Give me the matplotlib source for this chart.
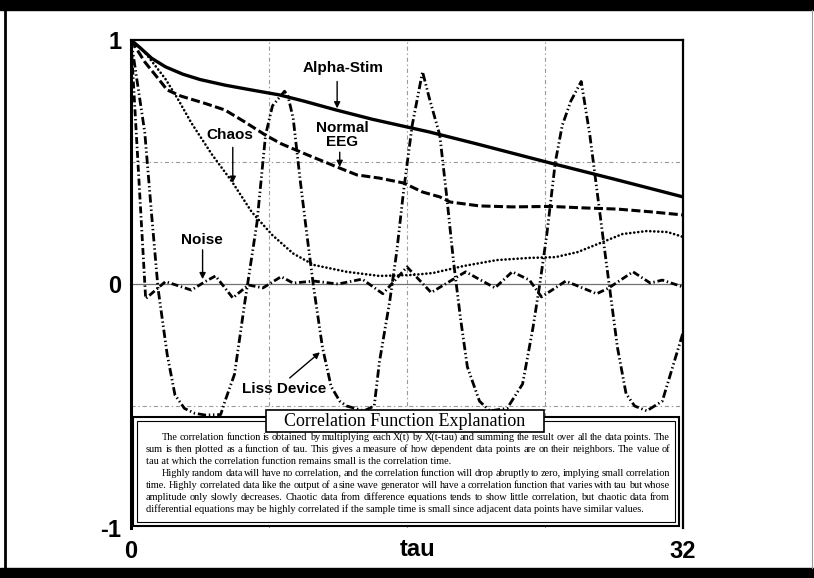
import matplotlib
matplotlib.use("Agg")
import matplotlib.pyplot as plt
from matplotlib.patches import Rectangle

W, H = 814, 578

# values: tau and correlation for each curve
alpha_tau = [0, 0.5, 1.2, 2.0, 3.0, 4.0, 5.45, 7.0, 8.6, 10.0, 11.9, 14.0, 17.3, 20.0, 24.3, 28.0, 32]
alpha_val = [1.0, 0.97, 0.925, 0.89, 0.86, 0.838, 0.815, 0.795, 0.775, 0.75, 0.713, 0.675, 0.623, 0.575, 0.496, 0.43, 0.357]

eeg_tau = [0, 0.8, 1.6, 2.1, 2.9, 4.3, 5.45, 6.6, 7.8, 8.7, 10.2, 12.1, 13.1, 14.4, 15.8, 16.9, 17.9, 18.5, 20.2, 22.1, 24.3, 26.2, 28.2, 30.1, 32]
eeg_val = [1.0, 0.91, 0.84, 0.795, 0.77, 0.74, 0.713, 0.664, 0.61, 0.575, 0.53, 0.475, 0.447, 0.434, 0.414, 0.377, 0.357, 0.336, 0.32, 0.316, 0.318, 0.312, 0.307, 0.296, 0.283]

chaos_tau = [0, 0.8, 2.0, 2.7, 3.5, 4.7, 5.85, 7.0, 8.2, 9.4, 10.6, 12.5, 14.4, 16.3, 17.5, 19.3, 21.2, 23.1, 24.6, 25.9, 27.2, 28.5, 29.9, 31.1, 32]
chaos_val = [1.0, 0.95, 0.84, 0.76, 0.66, 0.53, 0.42, 0.295, 0.2, 0.125, 0.078, 0.05, 0.033, 0.037, 0.045, 0.074, 0.098, 0.107, 0.11, 0.131, 0.168, 0.205, 0.217, 0.213, 0.193]

noise_tau = [0, 0.85, 2.0, 3.5, 4.3, 4.9, 5.9, 6.8, 7.65, 8.7, 9.4, 10.6, 12.0, 13.4, 14.6, 16.0, 17.4, 19.4, 21.1, 22.1, 23.1, 23.8, 25.2, 27.0, 27.7, 29.1, 30.1, 30.8, 32]
noise_val = [1.0, -0.06, 0.01, -0.025, 0.01, 0.033, -0.057, -0.004, -0.016, 0.03, 0.004, 0.012, 0.0, 0.02, -0.04, 0.07, -0.035, 0.05, -0.016, 0.05, 0.016, -0.053, 0.012, -0.04, -0.016, 0.05, 0.004, 0.016, -0.012]

liss_tau = [0, 0.8, 1.2, 1.57, 2.1, 2.55, 3.1, 3.7, 4.3, 5.2, 5.45, 6.0, 6.6, 7.3, 7.8, 8.2, 8.9, 9.1, 9.4, 9.8, 10.2, 10.6, 11.1, 11.6, 12.1, 12.5, 13.5, 14.1, 14.4, 15.0, 15.4, 15.8, 16.3, 16.9, 17.3, 17.9, 18.3, 18.7, 19.1, 19.5, 20.2, 20.8, 21.8, 22.7, 23.3, 23.7, 24.1, 24.6, 25.0, 25.5, 26.1, 26.6, 27.0, 27.4, 27.8, 28.2, 28.7, 29.2, 29.9, 30.8, 31.4, 32]
liss_val = [1.0, 0.62, 0.28, -0.02, -0.29, -0.455, -0.51, -0.53, -0.537, -0.535, -0.48, -0.37, -0.074, 0.25, 0.61, 0.73, 0.79, 0.77, 0.68, 0.43, 0.2, -0.02, -0.26, -0.42, -0.48, -0.5, -0.52, -0.5, -0.32, -0.07, 0.13, 0.38, 0.65, 0.87, 0.76, 0.61, 0.36, 0.09, -0.14, -0.34, -0.48, -0.52, -0.51, -0.41, -0.18, 0.0, 0.2, 0.5, 0.65, 0.75, 0.83, 0.61, 0.39, 0.17, -0.045, -0.26, -0.45, -0.5, -0.52, -0.48, -0.34, -0.2]

x_ticks = [0, 32]
x_tick_labels = ["0", "32"]
y_ticks = [-1, 0, 1]
y_tick_labels = ["-1", "0", "1"]

box_title = "Correlation Function Explanation"
box_lines = [
    ("The correlation function is obtained by multiplying each X(t) by X(t-tau) and summing the result over all the data points.  The", True, True),
    ("sum is then plotted as a function of tau.  This gives a measure of how dependent data points are on their neighbors.  The value of", False, True),
    ("tau at which the correlation function remains small is the correlation time.", False, False),
    ("Highly random data will have no correlation, and the correlation function will drop abruptly to zero, implying small correlation", True, True),
    ("time.  Highly correlated data like the output of a sine wave generator will have a correlation function that varies with tau but whose", False, True),
    ("amplitude only slowly decreases.  Chaotic data from difference equations tends to show little correlation, but chaotic data from", False, True),
    ("differential equations may be highly correlated if the sample time is small since adjacent data points have similar values.", False, False),
]

plt.rcParams["font.family"] = "Liberation Sans"
plt.rcParams["lines.scale_dashes"] = False

fig = plt.figure(figsize=(W / 100, H / 100), dpi=100)
fig.patch.set_facecolor("white")


def fx(px):
    return px / W


def fy(py):
    return 1 - py / H


# scanned page frame
fig.patches.append(Rectangle((0, fy(10)), 1, 1 - fy(10), transform=fig.transFigure, color="black"))
fig.patches.append(Rectangle((0, 0), 1, fy(568), transform=fig.transFigure, color="black"))
fig.add_artist(plt.Line2D([fx(5), fx(5)], [fy(10), fy(568)], transform=fig.transFigure, color="black", lw=2))
fig.add_artist(plt.Line2D([fx(812), fx(812)], [fy(10), fy(568)], transform=fig.transFigure, color="0.6", lw=0.8))

ax = fig.add_axes([fx(131), fy(528), fx(683) - fx(131), fy(40) - fy(528)])
ax.set_xlim(0, 32)
ax.set_ylim(-1, 1)

# grid
for gx in [8, 16, 24]:
    ax.axvline(gx, color="0.6", lw=0.8, ls=(0, (3, 2, 1, 2)), zorder=1)
for gy in [0.5, -0.5]:
    ax.axhline(gy, color="0.6", lw=0.8, ls=(0, (3, 2, 1, 2)), zorder=1)
ax.axhline(0, color="0.45", lw=0.9, zorder=1)

ax.plot(alpha_tau, alpha_val, color="black", lw=2.4, zorder=3)
ax.plot(eeg_tau, eeg_val, color="black", lw=2.2, dashes=(6.5, 2.5), zorder=3)
ax.plot(chaos_tau, chaos_val, color="black", lw=1.9, dashes=(0.1, 2.8), dash_capstyle="round", zorder=3)
ax.plot(noise_tau, noise_val, color="black", lw=2.0, dashes=(5, 2, 1, 2), zorder=3)
ax.plot(liss_tau, liss_val, color="black", lw=2.0, dashes=(6, 2, 1, 2, 1, 2), zorder=3)

arrow = dict(arrowstyle="-|>", color="black", lw=1.0, mutation_scale=9, shrinkA=0, shrinkB=0)
lab = dict(fontsize=11, fontweight="bold", ha="center", va="center", zorder=5)
ax.text(12.3, 0.885, "Alpha-Stim", **lab)
ax.annotate("", xy=(11.95, 0.72), xytext=(11.95, 0.83), arrowprops=arrow)
ax.text(12.25, 0.61, "Normal\nEEG", linespacing=1.0, **lab)
ax.annotate("", xy=(12.1, 0.48), xytext=(12.1, 0.54), arrowprops=arrow)
ax.text(5.75, 0.61, "Chaos", **lab)
ax.annotate("", xy=(5.9, 0.415), xytext=(5.9, 0.56), arrowprops=arrow)
ax.text(4.1, 0.18, "Noise", **lab)
ax.annotate("", xy=(4.15, 0.02), xytext=(4.15, 0.14), arrowprops=arrow)
ax.text(8.9, -0.43, "Liss Device", **lab)
ax.annotate("", xy=(10.95, -0.28), xytext=(9.2, -0.385), arrowprops=arrow)

ax.set_xticks(x_ticks)
ax.set_xticklabels(x_tick_labels, fontsize=17, fontweight="bold")
ax.set_yticks(y_ticks)
ax.set_yticklabels(y_tick_labels, fontsize=17, fontweight="bold")
ax.tick_params(length=0)
ax.tick_params(axis="y", pad=7)
ax.tick_params(axis="x", pad=9)
ax.text(0.52, -0.045, "tau", transform=ax.transAxes, fontsize=17, fontweight="bold", ha="center", va="center")

ax.spines["bottom"].set_visible(False)
ax.spines["left"].set_linewidth(2.2)
ax.spines["top"].set_linewidth(1.6)
ax.spines["right"].set_linewidth(1.6)

# explanation box
fig.add_artist(Rectangle((fx(133), fy(526)), fx(679) - fx(133), fy(417) - fy(526), transform=fig.transFigure,
                         facecolor="white", edgecolor="black", lw=1.5, zorder=10))
fig.add_artist(Rectangle((fx(137), fy(522)), fx(675) - fx(137), fy(421) - fy(522), transform=fig.transFigure,
                         facecolor="none", edgecolor="black", lw=0.8, zorder=11))
fig.add_artist(Rectangle((fx(266), fy(432)), fx(544) - fx(266), fy(410) - fy(432), transform=fig.transFigure,
                         facecolor="white", edgecolor="black", lw=1.2, zorder=12))
fig.text(fx(405), fy(422), box_title, family="Liberation Serif", fontsize=13, ha="center", va="center", zorder=13)

renderer = fig.canvas.get_renderer()
tkw = dict(family="Liberation Serif", fontsize=7.4, va="center", zorder=13)


def word_width(s):
    t = fig.text(0, 0, s, **tkw)
    w = t.get_window_extent(renderer).width
    t.remove()
    return w


left, right, indent = 146, 670, 16
for i, (line, ind, justify) in enumerate(box_lines):
    y = fy(437 + 12 * i)
    x0 = left + (indent if ind else 0)
    if not justify:
        fig.text(fx(x0), y, line, **tkw)
        continue
    words = line.split()
    widths = [word_width(w) for w in words]
    gap = (right - x0 - sum(widths)) / (len(words) - 1)
    x = x0
    for w, wd in zip(words, widths):
        fig.text(fx(x), y, w, **tkw)
        x += wd + gap

fig.savefig("out.png", dpi=100)
